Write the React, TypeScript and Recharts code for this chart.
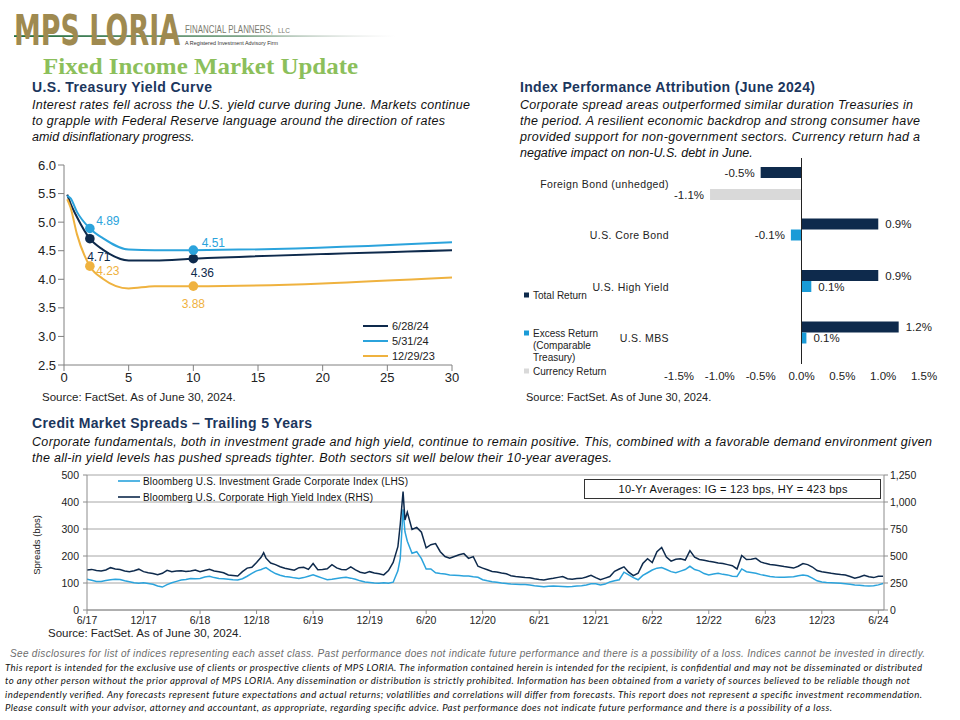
import React from 'react';
import { LineChart, Line, XAxis, YAxis, BarChart, Bar, LabelList, ReferenceLine, CartesianGrid } from 'recharts';

const FONT = '"Liberation Sans", Arial, Helvetica, sans-serif';
const NAVY = '#0e2a4c';
const SKY = '#2ba3dc';
const GOLD = '#efb23f';
const BAR_SKY = '#1a9bd7';
const GRAY = '#d9d9d9';

// ---------- U.S. Treasury Yield Curve ----------
const maturities = [0.25, 0.5, 1, 2, 3, 5, 7, 10, 30];
const yield062824 = [5.48, 5.33, 5.09, 4.71, 4.52, 4.33, 4.33, 4.36, 4.51];
const yield053124 = [5.46, 5.42, 5.18, 4.89, 4.72, 4.52, 4.51, 4.51, 4.65];
const yield122923 = [5.40, 5.26, 4.79, 4.23, 4.01, 3.84, 3.88, 3.88, 4.03];
const yieldSeriesNames = ['6/28/24', '5/31/24', '12/29/23'];
const yieldTicksX = [0, 5, 10, 15, 20, 25, 30];
const yieldTicksY = [2.5, 3, 3.5, 4, 4.5, 5, 5.5, 6];
const markedMaturities = [2, 10];

// ---------- Index Performance Attribution ----------
const attrCategories = ['Foreign Bond (unhedged)', 'U.S. Core Bond', 'U.S. High Yield', 'U.S. MBS'];
const totalReturn = [-0.5, 0.94, 0.94, 1.19];
const excessReturn: (number | null)[] = [null, -0.13, 0.12, 0.06];
const currencyReturn: (number | null)[] = [-1.12, null, null, null];
const attrTicks = [-1.5, -1, -0.5, 0, 0.5, 1, 1.5];

// ---------- Credit Market Spreads ----------
const spreadMonths = [
  0, 0.5, 1, 1.5, 2, 2.5, 3, 3.5, 4, 4.5, 5, 5.5,
  6, 6.5, 7, 7.5, 8, 8.5, 9, 9.5, 10, 10.5, 11, 11.5,
  12, 12.5, 13, 13.5, 14, 14.5, 15, 15.5, 16, 16.5, 17, 17.5,
  18, 18.5, 18.75, 19, 19.5, 20, 20.5, 21, 21.5, 22, 22.5, 23, 23.5,
  24, 24.5, 25, 25.5, 26, 26.5, 27, 27.5, 28, 28.5, 29, 29.5,
  30, 30.5, 31, 31.5, 32, 32.5, 33, 33.25, 33.55, 33.75, 34, 34.5, 35, 35.5,
  36, 36.5, 37, 37.5, 38, 38.5, 39, 39.5, 40, 40.5, 41, 41.5,
  42, 42.5, 43, 43.5, 44, 44.5, 45, 45.5, 46, 46.5, 47, 47.5,
  48, 48.5, 49, 49.5, 50, 50.5, 51, 51.5, 52, 52.5, 53, 53.5,
  54, 54.5, 55, 55.5, 56, 56.5, 57, 57.5, 58, 58.5, 59, 59.5,
  60, 60.5, 61, 61.5, 62, 62.5, 63, 63.5, 64, 64.5, 65, 65.5,
  66, 66.5, 67, 67.5, 68, 68.5, 69, 69.5, 70, 70.5, 71, 71.5,
  72, 72.5, 73, 73.5, 74, 74.5, 75, 75.5, 76, 76.5, 77, 77.5,
  78, 78.5, 79, 79.5, 80, 80.5, 81, 81.5, 82, 82.5, 83, 83.5, 84, 84.5,
];
const igSpreads = [
  114, 110, 106, 106, 109, 112, 114, 113, 108, 105, 101, 99,
  101, 98, 95, 89, 85, 94, 101, 106, 111, 113, 117, 116,
  117, 122, 125, 120, 117, 116, 114, 112, 111, 116, 125, 136,
  145, 150, 154, 157, 145, 135, 129, 124, 122, 119, 117, 120, 125,
  130, 124, 118, 112, 114, 117, 119, 121, 118, 114, 108, 104,
  102, 100, 99, 101, 99, 103, 145, 190, 373, 290, 255, 210, 216, 190,
  152, 152, 138, 135, 133, 130, 129, 128, 126, 126, 123, 121,
  112, 108, 105, 103, 100, 98, 96, 95, 94, 94, 93, 90,
  88, 86, 88, 89, 88, 87, 86, 87, 89, 90, 93, 97,
  97, 93, 96, 104, 108, 112, 140, 130, 120, 112, 128, 138,
  148, 155, 157, 150, 142, 138, 144, 150, 162, 150, 145, 135,
  130, 133, 136, 132, 130, 125, 124, 152, 142, 139, 136, 131,
  128, 124, 122, 121, 121, 122, 123, 127, 130, 127, 118, 108,
  104, 102, 101, 100, 99, 97, 95, 93, 92, 90, 89, 90, 93, 98,
];
const hySpreads = [
  370, 376, 365, 362, 370, 392, 380, 374, 362, 355, 364, 378,
  355, 345, 338, 326, 340, 368, 355, 360, 364, 357, 362, 370,
  355, 366, 376, 362, 355, 345, 324, 320, 315, 355, 388, 395,
  440, 490, 531, 480, 435, 420, 400, 386, 378, 368, 392, 395, 376,
  430, 372, 375, 382, 420, 390, 375, 372, 400, 372, 350, 340,
  355, 342, 335, 325, 365, 440, 586, 790, 1096, 833, 905, 745, 765, 720,
  575, 605, 615, 540, 495, 480, 496, 512, 522, 478, 494, 405,
  388, 372, 356, 352, 342, 335, 318, 310, 305, 300, 299, 290,
  282, 278, 288, 293, 302, 309, 290, 285, 292, 293, 305, 322,
  300, 280, 295, 310, 358, 380, 400, 350, 318, 340, 430, 475,
  440, 540, 580, 490, 452, 470, 475, 463, 550, 490, 468, 460,
  452, 445, 435, 430, 420, 410, 380, 505, 468, 470, 478, 445,
  432, 422, 417, 410, 402, 395, 388, 405, 430, 420, 398, 365,
  355, 348, 340, 334, 328, 324, 310, 295, 305, 322, 308, 300, 312, 312,
];
const spreadTickMonths = [0, 6, 12, 18, 24, 30, 36, 42, 48, 54, 60, 66, 72, 78, 84];
const spreadTickLabels = ['6/17', '12/17', '6/18', '12/18', '6/19', '12/19', '6/20', '12/20', '6/21', '12/21', '6/22', '12/22', '6/23', '12/23', '6/24'];
const igTicks = [0, 100, 200, 300, 400, 500];
const hyTicks = [0, 250, 500, 750, 1000, 1250];

// ---------- tables built from the arrays ----------
const yieldRows = maturities.map((m, i) => ({ m, a: yield062824[i], b: yield053124[i], c: yield122923[i] }));
const attrRows = attrCategories.map((name, i) => ({ name, total: totalReturn[i], excess: excessReturn[i], currency: currencyReturn[i] }));
const spreadRows = spreadMonths.map((t, i) => ({ t, ig: igSpreads[i], hy: hySpreads[i] }));

const yieldSeries = [
  { key: 'a', color: NAVY, offs: [[9, 18], [9, 14]] },
  { key: 'b', color: SKY, offs: [[18, -7], [20, -7]] },
  { key: 'c', color: GOLD, offs: [[18, 4.5], [0, 18]] },
];

function makeDot(key: string, color: string, offs: number[][]) {
  return (props: any) => {
    const { cx, cy, payload, index } = props;
    const k = payload ? markedMaturities.indexOf(payload.m) : -1;
    if (k < 0 || cx == null || cy == null) return <g key={`d-${key}-${index}`} />;
    const [dx, dy] = offs[k];
    return (
      <g key={`d-${key}-${index}`}>
        <circle cx={cx} cy={cy} r={4.8} fill={color} />
        <text x={cx + dx} y={cy + dy} textAnchor="middle" dominantBaseline="central" fill={color} fontSize={12} fontFamily={FONT}>
          {Number(payload[key]).toFixed(2)}
        </text>
      </g>
    );
  };
}

const renderBarLabel = (props: any) => {
  const vb = props.viewBox || {};
  const value = props.value;
  if (value === null || value === undefined || value === '') return null;
  const x = Number(props.x ?? vb.x);
  const y = Number(props.y ?? vb.y);
  const w = Number(props.width ?? vb.width);
  const h = Number(props.height ?? vb.height);
  const v = Number(value);
  const pos = v >= 0;
  const end = pos ? Math.max(x, x + w) : Math.min(x, x + w);
  return (
    <text x={pos ? end + 7 : end - 6} y={y + h / 2} textAnchor={pos ? 'start' : 'end'} dominantBaseline="central" fontSize={11.5} fill="#222" fontFamily={FONT}>
      {v.toFixed(1)}%
    </text>
  );
};

const CategoryTick = (props: any) => {
  const { x, y, payload } = props;
  return (
    <text x={x} y={y} textAnchor="end" dominantBaseline="central" fontSize={10.5} fill="#222" fontFamily={FONT} letterSpacing={0.4}>
      {payload.value}
    </text>
  );
};

const tickStyle = (size: number) => ({ fill: '#222', fontSize: size, fontFamily: FONT });

const T = (p: any) => <text fontFamily={FONT} {...p} />;

export default function App() {
  return (
    <div style={{ position: 'absolute', left: 0, top: 0, width: 960, height: 720, background: '#fff', overflow: 'hidden', fontFamily: FONT }}>
      {/* Yield curve */}
      <div style={{ position: 'absolute', left: 20, top: 155 }}>
        <LineChart width={445} height={240} data={yieldRows} margin={{ top: 10, right: 13, bottom: 10, left: 0 }}>
          <XAxis type="number" dataKey="m" domain={[0, 30]} ticks={yieldTicksX} allowDataOverflow interval={0}
            stroke="#808080" height={20} tick={tickStyle(13)} />
          <YAxis type="number" domain={[2.5, 6]} ticks={yieldTicksY} allowDataOverflow interval={0}
            tickFormatter={(v: number) => v.toFixed(1)} width={44} stroke="#808080" tick={tickStyle(13)} />
          {yieldSeries.map((s) => (
            <Line key={s.key} dataKey={s.key} type="monotone" stroke={s.color} strokeWidth={2}
              dot={makeDot(s.key, s.color, s.offs)} activeDot={false} isAnimationActive={false} />
          ))}
        </LineChart>
      </div>

      {/* Attribution bars */}
      <div style={{ position: 'absolute', left: 520, top: 150 }}>
        <BarChart layout="vertical" width={420} height={240} data={attrRows} margin={{ top: 8, right: 16, bottom: 6, left: 0 }} barGap={0} barSize={11}>
          <XAxis type="number" domain={[-1.5, 1.5]} ticks={attrTicks} allowDataOverflow interval={0}
            tickFormatter={(v: number) => v.toFixed(1) + '%'} axisLine={false} tickLine={false} height={20} tick={tickStyle(11.5)} />
          <YAxis type="category" dataKey="name" width={159} axisLine={false} tickLine={false} tickMargin={4} tick={<CategoryTick />} interval={0} />
          <Bar dataKey="total" fill={NAVY} isAnimationActive={false}>
            <LabelList dataKey="total" content={renderBarLabel} />
          </Bar>
          <Bar dataKey="excess" fill={BAR_SKY} isAnimationActive={false}>
            <LabelList dataKey="excess" content={renderBarLabel} />
          </Bar>
          <Bar dataKey="currency" fill={GRAY} isAnimationActive={false}>
            <LabelList dataKey="currency" content={renderBarLabel} />
          </Bar>
          <ReferenceLine x={0} stroke="#222" strokeWidth={1} />
        </BarChart>
      </div>

      {/* Credit spreads */}
      <div style={{ position: 'absolute', left: 20, top: 465 }}>
        <LineChart width={914} height={167} data={spreadRows} margin={{ top: 10, right: 0, bottom: 2, left: 0 }}>
          <CartesianGrid yAxisId="ig" vertical={false} stroke="#a6a6a6" />
          <XAxis type="number" dataKey="t" domain={[0, 84.6]} ticks={spreadTickMonths} allowDataOverflow interval={0}
            tickFormatter={(v: number) => spreadTickLabels[spreadTickMonths.indexOf(v)]}
            height={20} stroke="#8c8c8c" tickSize={4} tickMargin={3} tick={tickStyle(10.5)} />
          <YAxis yAxisId="ig" orientation="left" domain={[0, 500]} ticks={igTicks} allowDataOverflow interval={0}
            width={67} stroke="#8c8c8c" tickSize={4} tickMargin={4} tick={tickStyle(10.5)} />
          <YAxis yAxisId="hy" orientation="right" domain={[0, 1250]} ticks={hyTicks} allowDataOverflow interval={0}
            tickFormatter={(v: number) => v.toLocaleString('en-US')} width={50} stroke="#8c8c8c" tickSize={4} tick={tickStyle(10.5)} />
          <Line yAxisId="ig" dataKey="ig" type="linear" stroke={SKY} strokeWidth={1.5} dot={false} activeDot={false} isAnimationActive={false} />
          <Line yAxisId="hy" dataKey="hy" type="linear" stroke={NAVY} strokeWidth={1.5} dot={false} activeDot={false} isAnimationActive={false} />
        </LineChart>
      </div>

      {/* Static text overlay */}
      <svg width={960} height={720} style={{ position: 'absolute', left: 0, top: 0, pointerEvents: 'none' }}>
        <defs>
          <linearGradient id="logoLine" x1="0" y1="0" x2="1" y2="0">
            <stop offset="0" stopColor="#1f6b3c" stopOpacity="1" />
            <stop offset="0.6" stopColor="#5f8f6c" stopOpacity="0.8" />
            <stop offset="1" stopColor="#c8c8c8" stopOpacity="0" />
          </linearGradient>
        </defs>
        {/* Logo */}
        <rect x={14} y={35.2} width={382} height={1.8} fill="url(#logoLine)" />
        <text transform="translate(14,45) scale(1,1.6)" x={0} y={0} fontFamily='"DejaVu Sans", sans-serif' fontWeight="bold" fontSize={26.5} fill="#9f8a50"
          textLength={166} lengthAdjust="spacingAndGlyphs">MPS LORIA</text>
        <text transform="translate(185,32.5) scale(1,1.3)" x={0} y={0} fontFamily={FONT} fontSize={7.8} fill="#7b7b70" textLength={88} lengthAdjust="spacingAndGlyphs">FINANCIAL PLANNERS,</text>
        <T x={278} y={32.5} fontSize={6.5} fill="#7b7b70">LLC</T>
        <text transform="translate(185,44.5) scale(1,1.2)" x={0} y={0} fontFamily={FONT} fontSize={5} fill="#333" textLength={93} lengthAdjust="spacingAndGlyphs">A Registered Investment Advisory Firm</text>
        <text x={43} y={74} fontFamily='"Liberation Serif", "Times New Roman", serif' fontWeight="bold" fontSize={24} fill="#8cbf5b"
          textLength={315} lengthAdjust="spacingAndGlyphs">Fixed Income Market Update</text>

        {/* Yield curve section */}
        <T x={32} y={92} fontSize={14} fontWeight="bold" fill="#1b365d" textLength={180}>U.S. Treasury Yield Curve</T>
        <T x={32} y={108.5} fontSize={12.5} fontStyle="italic" fill="#111" textLength={438} lengthAdjust="spacing">Interest rates fell across the U.S. yield curve during June. Markets continue</T>
        <T x={32} y={124.5} fontSize={12.5} fontStyle="italic" fill="#111" textLength={413} lengthAdjust="spacing">to grapple with Federal Reserve language around the direction of rates</T>
        <T x={32} y={140.5} fontSize={12.5} fontStyle="italic" fill="#111">amid disinflationary progress.</T>
        {yieldSeries.map((s, i) => (
          <g key={s.key}>
            <rect x={363} y={325 + i * 15} width={25} height={2} fill={s.color} />
            <T x={392} y={330 + i * 15} fontSize={11} fill="#222">{yieldSeriesNames[i]}</T>
          </g>
        ))}
        <T x={42} y={401} fontSize={11.5} fill="#222">Source: FactSet. As of June 30, 2024.</T>

        {/* Attribution section */}
        <T x={520} y={92} fontSize={14} fontWeight="bold" fill="#1b365d" textLength={295}>Index Performance Attribution (June 2024)</T>
        <T x={520} y={108.5} fontSize={12.5} fontStyle="italic" fill="#111" textLength={393} lengthAdjust="spacing">Corporate spread areas outperformed similar duration Treasuries in</T>
        <T x={520} y={124.5} fontSize={12.5} fontStyle="italic" fill="#111" textLength={400} lengthAdjust="spacing">the period. A resilient economic backdrop and strong consumer have</T>
        <T x={520} y={140.5} fontSize={12.5} fontStyle="italic" fill="#111" textLength={400} lengthAdjust="spacing">provided support for non-government sectors. Currency return had a</T>
        <T x={520} y={156.5} fontSize={12.5} fontStyle="italic" fill="#111">negative impact on non-U.S. debt in June.</T>
        <rect x={524} y={292.5} width={5} height={5} fill={NAVY} />
        <T x={533} y={298.5} fontSize={10} fill="#222">Total Return</T>
        <rect x={524} y={330.5} width={5} height={5} fill={BAR_SKY} />
        <T x={533} y={336.5} fontSize={10} fill="#222">Excess Return</T>
        <T x={533} y={348.5} fontSize={10} fill="#222">(Comparable</T>
        <T x={533} y={360.5} fontSize={10} fill="#222">Treasury)</T>
        <rect x={524} y={368.5} width={5} height={5} fill={GRAY} />
        <T x={533} y={374.5} fontSize={10} fill="#222">Currency Return</T>
        <T x={526} y={401} fontSize={11} fill="#222">Source: FactSet. As of June 30, 2024.</T>

        {/* Credit section */}
        <T x={32} y={428} fontSize={14} fontWeight="bold" fill="#1b365d" textLength={280}>Credit Market Spreads – Trailing 5 Years</T>
        <T x={32} y={445.5} fontSize={12.5} fontStyle="italic" fill="#111" textLength={900} lengthAdjust="spacing">Corporate fundamentals, both in investment grade and high yield, continue to remain positive. This, combined with a favorable demand environment given</T>
        <T x={32} y={461.5} fontSize={12.5} fontStyle="italic" fill="#111" textLength={580} lengthAdjust="spacing">the all-in yield levels has pushed spreads tighter. Both sectors sit well below their 10-year averages.</T>
        <rect x={118} y={480.2} width={22} height={1.6} fill={SKY} />
        <T x={143} y={484.5} fontSize={10} fill="#111" textLength={265} lengthAdjust="spacing">Bloomberg U.S. Investment Grade Corporate Index (LHS)</T>
        <rect x={118} y={496.2} width={22} height={1.6} fill={NAVY} />
        <T x={143} y={500.5} fontSize={10} fill="#111" textLength={230} lengthAdjust="spacing">Bloomberg U.S. Corporate High Yield Index (RHS)</T>
        <rect x={584.5} y={479.5} width={296} height={19} fill="#fff" stroke="#333" strokeWidth={1} />
        <T x={733} y={493} fontSize={11} fill="#111" textAnchor="middle" textLength={229} lengthAdjust="spacing">10-Yr Averages: IG = 123 bps, HY = 423 bps</T>
        <T x={0} y={0} fontSize={9.5} fill="#222" textAnchor="middle" transform="translate(40,545) rotate(-90)">Spreads (bps)</T>
        <T x={48} y={637} fontSize={11.5} fill="#222">Source: FactSet. As of June 30, 2024.</T>

        {/* Footer */}
        <T x={10} y={656.5} fontSize={10} fontStyle="italic" fill="#6d6d6d" textLength={915} lengthAdjust="spacing">See disclosures for list of indices representing each asset class. Past performance does not indicate future performance and there is a possibility of a loss. Indices cannot be invested in directly.</T>
        <text x={5} y={670.5} fontFamily='Lato, "Open Sans", sans-serif' fontSize={9.6} fontStyle="italic" fill="#111" textLength={917} lengthAdjust="spacing">This report is intended for the exclusive use of clients or prospective clients of MPS LORIA. The information contained herein is intended for the recipient, is confidential and may not be disseminated or distributed</text>
        <text x={5} y={684} fontFamily='Lato, "Open Sans", sans-serif' fontSize={9.6} fontStyle="italic" fill="#111" textLength={905} lengthAdjust="spacing">to any other person without the prior approval of MPS LORIA. Any dissemination or distribution is strictly prohibited. Information has been obtained from a variety of sources believed to be reliable though not</text>
        <text x={5} y={697.5} fontFamily='Lato, "Open Sans", sans-serif' fontSize={9.6} fontStyle="italic" fill="#111" textLength={917} lengthAdjust="spacing">independently verified. Any forecasts represent future expectations and actual returns; volatilities and correlations will differ from forecasts. This report does not represent a specific investment recommendation.</text>
        <text x={5} y={711} fontFamily='Lato, "Open Sans", sans-serif' fontSize={9.6} fontStyle="italic" fill="#111" textLength={827} lengthAdjust="spacing">Please consult with your advisor, attorney and accountant, as appropriate, regarding specific advice. Past performance does not indicate future performance and there is a possibility of a loss.</text>
      </svg>
    </div>
  );
}
